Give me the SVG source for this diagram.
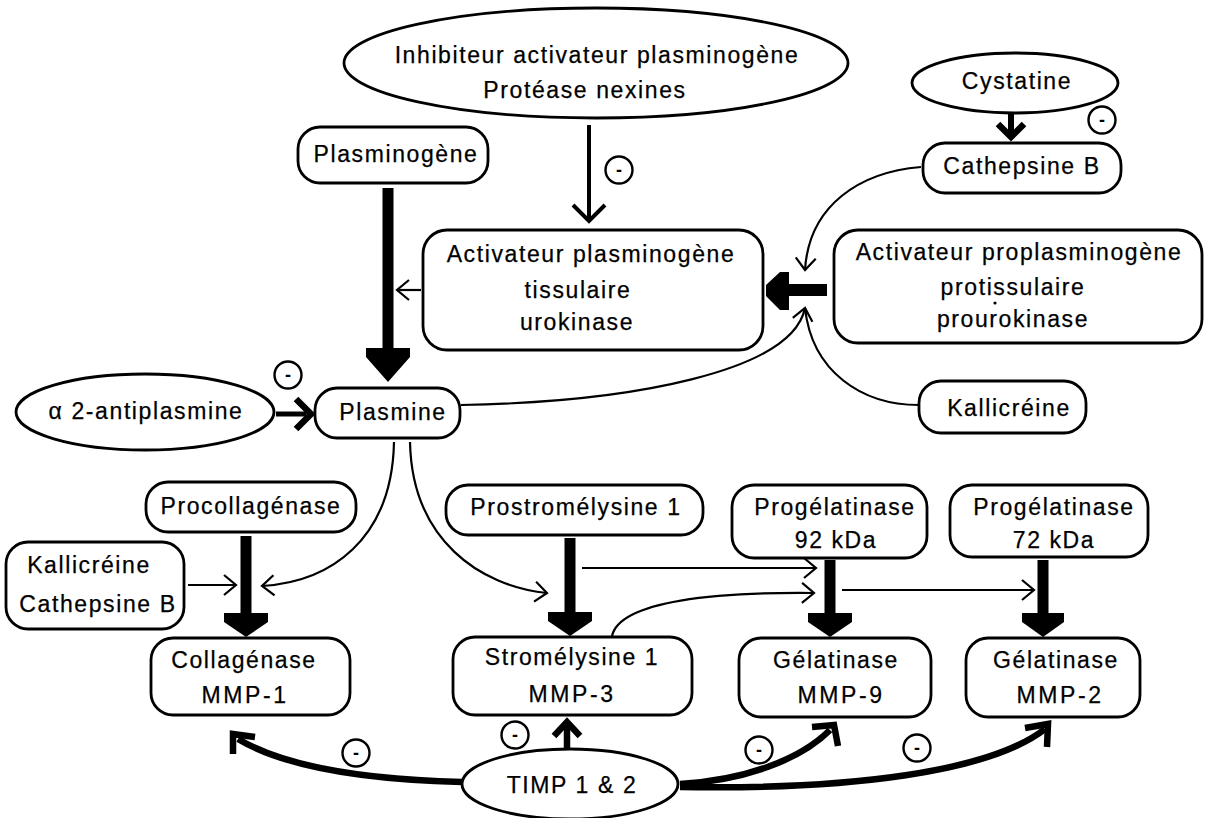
<svg xmlns="http://www.w3.org/2000/svg" width="1207" height="818" viewBox="0 0 1207 818">
<style>
.box{fill:#fff;stroke:#000;stroke-width:2.8}
.t{font-family:"Liberation Sans",Arial,sans-serif;font-size:23px;letter-spacing:1.6px;text-anchor:middle;fill:#000;stroke:#000;stroke-width:0.25}
.mmp{letter-spacing:2.6px}
.thin{fill:none;stroke:#000;stroke-width:2.2}
.med{fill:none;stroke:#000;stroke-width:4}
.thick{fill:none;stroke:#000;stroke-width:6.5}
.head{fill:none;stroke:#000;stroke-width:6.5;stroke-linejoin:miter;stroke-linecap:butt}
.solid{fill:#000;stroke:none}
.mc{fill:#fff;stroke:#000;stroke-width:2.4}
.mt{font-family:"Liberation Sans",Arial,sans-serif;font-size:18px;font-weight:bold;text-anchor:middle;fill:#000}
</style>
<defs>
<marker id="open" viewBox="-14 -12 16 24" markerWidth="16" markerHeight="24" refX="0" refY="0" orient="auto" markerUnits="userSpaceOnUse">
<path d="M-12,-10 L0,0 L-12,10" fill="none" stroke="#000" stroke-width="2.2"/>
</marker>
</defs>

<g id="connectors">
<!-- thick conversion arrows -->
<path class="solid" d="M382.5,188 H393.5 V350 H382.5 Z M366,348 H410 V357 L388,382 L366,357 Z"/>
<path class="solid" d="M240.5,536 H251.5 V615 H240.5 Z M224,613 H268 V622 L246,637 L224,622 Z"/>
<path class="solid" d="M564.5,538 H575.5 V614 H564.5 Z M548,612 H592 V621 L570,636 L548,621 Z"/>
<path class="solid" d="M824.5,560 H835.5 V615 H824.5 Z M808,613 H852 V622 L830,637 L808,622 Z"/>
<path class="solid" d="M1037.5,560 H1048.5 V615 H1037.5 Z M1022,613 H1064 V622 L1043,637 L1022,622 Z"/>
<path class="solid" d="M786,284 H827 V296 H786 Z M789,272 V310 H780 L766,296 V285 L780,272 Z"/>
<!-- Cystatine -> Cathepsine B -->
<path d="M1011,114 V134" stroke="#000" stroke-width="6" fill="none"/>
<path class="head" d="M998,124 L1011,137 L1024,124"/>
<!-- alpha 2-antiplasmine -> Plasmine -->
<path d="M276,414 H306" stroke="#000" stroke-width="5" fill="none"/>
<path class="head" d="M296,399 L311,414 L296,429"/>
<!-- Inhibiteur -> Activateur -->
<path class="med" d="M589,125 V220"/>
<path class="med" d="M573,205 L589,221 L605,205"/>
<!-- thin activation arrows -->
<path class="thin" d="M421,290 H397" marker-end="url(#open)"/>
<path class="thin" d="M921,167 C860,172 809,205 805,270" marker-end="url(#open)"/>
<path class="thin" d="M461,405 C630,402 792,372 805,308" marker-end="url(#open)"/>
<path class="thin" d="M919,405 C862,405 812,372 805,308"/>
<path class="thin" d="M394,442 C392,540 330,582 262,586" marker-end="url(#open)"/>
<path class="thin" d="M410,442 C412,540 480,586 547,593" marker-end="url(#open)"/>
<path class="thin" d="M188,585 H236" marker-end="url(#open)"/>
<path class="thin" d="M582,568 H816" marker-end="url(#open)"/>
<path class="thin" d="M612,636 C620,600 720,592 814,593" marker-end="url(#open)"/>
<path class="thin" d="M842,590 H1034" marker-end="url(#open)"/>
<!-- TIMP inhibition arrows -->
<path class="thick" d="M462,782 C380,780 290,770 238,739"/>
<path class="head" d="M233,754 L233,734 L255,737"/>
<path class="thick" d="M567,748 V724"/>
<path class="head" d="M554,736 L567,722 L580,736"/>
<path class="thick" d="M680,784 C745,780 800,760 830,730"/>
<path class="head" d="M812,727 L834,725 L838,746"/>
<path class="thick" d="M680,787 C850,790 990,772 1045,729"/>
<path class="head" d="M1025,728 L1048,724 L1047,747"/>
</g>

<g id="inhibition-marks">
<circle class="mc" cx="619" cy="170" r="13.5"/><text class="mt" x="619" y="176">-</text>
<circle class="mc" cx="1102" cy="120" r="13.5"/><text class="mt" x="1102" y="126">-</text>
<circle class="mc" cx="288" cy="375" r="13.5"/><text class="mt" x="288" y="381">-</text>
<circle class="mc" cx="356" cy="753" r="13.5"/><text class="mt" x="356" y="759">-</text>
<circle class="mc" cx="515" cy="735" r="13.5"/><text class="mt" x="515" y="741">-</text>
<circle class="mc" cx="759" cy="750" r="13.5"/><text class="mt" x="759" y="756">-</text>
<circle class="mc" cx="917" cy="748" r="13.5"/><text class="mt" x="917" y="754">-</text>
</g>

<g id="inhibiteur">
<ellipse class="box" cx="596" cy="63" rx="252" ry="55"/>
<text class="t" x="597" y="63">Inhibiteur  activateur  plasminogène</text>
<text class="t" x="585" y="98">Protéase  nexines</text>
</g>
<g id="cystatine">
<ellipse class="box" cx="1015" cy="83" rx="103" ry="30"/>
<text class="t" x="1017" y="89">Cystatine</text>
</g>
<g id="cathepsineB">
<rect class="box" x="923" y="143" width="198" height="50" rx="22"/>
<text class="t" x="1022" y="174">Cathepsine B</text>
</g>
<g id="plasminogene">
<rect class="box" x="298" y="127" width="190" height="56" rx="22"/>
<text class="t" x="396" y="162">Plasminogène</text>
</g>
<g id="activateur">
<rect class="box" x="423" y="230" width="340" height="120" rx="24"/>
<text class="t" x="591" y="262">Activateur  plasminogène</text>
<text class="t" x="578" y="298">tissulaire</text>
<text class="t" x="577" y="330">urokinase</text>
</g>
<g id="proactivateur">
<rect class="box" x="834" y="230" width="368" height="113" rx="24"/>
<text class="t" x="1019" y="260">Activateur  proplasminogène</text>
<text class="t" x="1013" y="295">protissulaire</text>
<text class="t" x="1013" y="327">prourokinase</text>
<circle cx="995" cy="303" r="1.6" fill="#000"/>
</g>
<g id="kallicreine">
<rect class="box" x="919" y="381" width="167" height="52" rx="22"/>
<text class="t" x="1009" y="416">Kallicréine</text>
</g>
<g id="antiplasmine">
<ellipse class="box" cx="145" cy="412" rx="129" ry="38"/>
<text class="t" x="146" y="419">α 2-antiplasmine</text>
</g>
<g id="plasmine">
<rect class="box" x="315" y="388" width="145" height="50" rx="22"/>
<text class="t" x="393" y="420">Plasmine</text>
</g>
<g id="procollagenase">
<rect class="box" x="146" y="482" width="210" height="50" rx="22"/>
<text class="t" x="251" y="514">Procollagénase</text>
</g>
<g id="kallicreine-cathepsine">
<rect class="box" x="6" y="542" width="178" height="87" rx="22"/>
<text class="t" x="89" y="573">Kallicréine</text>
<text class="t" x="98" y="612">Cathepsine B</text>
</g>
<g id="collagenase">
<rect class="box" x="151" y="638" width="199" height="77" rx="22"/>
<text class="t" x="244" y="668">Collagénase</text>
<text class="t mmp" x="245" y="703">MMP-1</text>
</g>
<g id="prostromelysine">
<rect class="box" x="446" y="485" width="257" height="50" rx="22"/>
<text class="t" x="576" y="515">Prostromélysine  1</text>
</g>
<g id="stromelysine">
<rect class="box" x="453" y="637" width="239" height="78" rx="22"/>
<text class="t" x="572" y="665">Stromélysine  1</text>
<text class="t mmp" x="572" y="702">MMP-3</text>
</g>
<g id="progelatinase92">
<rect class="box" x="732" y="485" width="195" height="73" rx="22"/>
<text class="t" x="835" y="515">Progélatinase</text>
<text class="t" x="836" y="548">92 kDa</text>
</g>
<g id="progelatinase72">
<rect class="box" x="950" y="485" width="198" height="72" rx="22"/>
<text class="t" x="1054" y="515">Progélatinase</text>
<text class="t" x="1054" y="548">72 kDa</text>
</g>
<g id="gelatinase9">
<rect class="box" x="739" y="638" width="192" height="79" rx="22"/>
<text class="t" x="836" y="668">Gélatinase</text>
<text class="t mmp" x="841" y="703">MMP-9</text>
</g>
<g id="gelatinase2">
<rect class="box" x="966" y="638" width="174" height="79" rx="22"/>
<text class="t" x="1056" y="668">Gélatinase</text>
<text class="t mmp" x="1060" y="703">MMP-2</text>
</g>
<g id="timp">
<ellipse class="box" cx="570" cy="784" rx="108" ry="35"/>
<text class="t" x="572" y="793">TIMP 1 &amp; 2</text>
</g>
</svg>
